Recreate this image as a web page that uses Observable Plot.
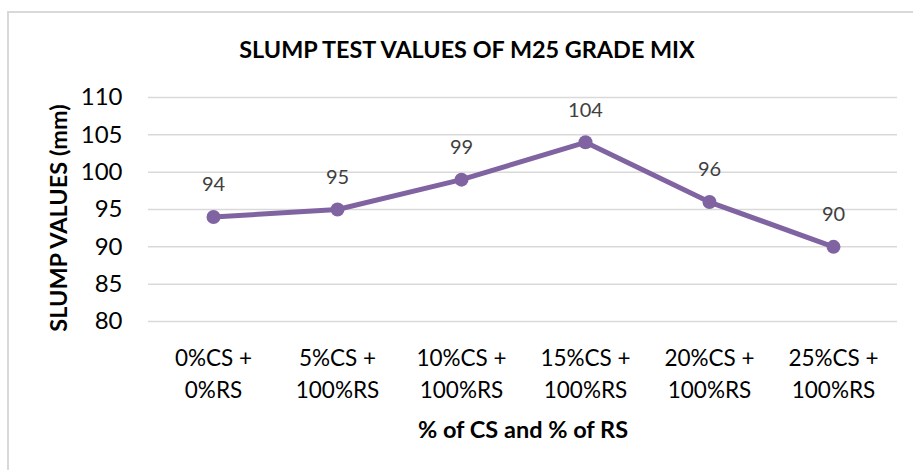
<!DOCTYPE html>
<html>
<head>
<meta charset="utf-8">
<script src="https://cdn.jsdelivr.net/npm/d3@7"></script>
<script src="https://cdn.jsdelivr.net/npm/@observablehq/plot@0.6"></script>
<style>
  html, body { margin: 0; padding: 0; background: #fff; overflow: hidden; }
  #wrap { position: relative; width: 913px; height: 470px; font-family: Lato, "Open Sans", sans-serif; }
  #frame { position: absolute; left: 7px; top: 11px; width: 940px; height: 500px;
           border-left: 2px solid #d9d9d9; border-top: 2px solid #d9d9d9; box-sizing: border-box; }
  #chart { position: absolute; left: 0; top: 0; }
  .ttl { position: absolute; font-weight: bold; color: #000; white-space: nowrap; line-height: 1; }
  #title { left: 467px; top: 38px; font-size: 23.4px; transform: translateX(-50%); }
  #xtitle { left: 523px; top: 418px; font-size: 23.5px; transform: translateX(-50%); }
  #ytitle { left: 59px; top: 218px; font-size: 23.5px; transform: translate(-50%, -50%) rotate(-90deg); }
</style>
</head>
<body>
<div id="wrap">
  <div id="frame"></div>
  <div id="chart"></div>
  <div class="ttl" id="title">SLUMP TEST VALUES OF M25 GRADE MIX</div>
  <div class="ttl" id="ytitle">SLUMP VALUES (mm)</div>
  <div class="ttl" id="xtitle">% of CS and % of RS</div>
</div>
<script>
const categories = ["0%CS +\n0%RS", "5%CS +\n100%RS", "10%CS +\n100%RS", "15%CS +\n100%RS", "20%CS +\n100%RS", "25%CS +\n100%RS"];
const slump = [94, 95, 99, 104, 96, 90];
const yTicks = [80, 85, 90, 95, 100, 105, 110];

const data = categories.map((c, i) => ({cat: c, value: slump[i]}));
const purple = "#8064A2";

const chart = Plot.plot({
  width: 913,
  height: 470,
  marginTop: 97,
  marginBottom: 149,
  marginLeft: 148,
  marginRight: 16,
  style: { fontFamily: "Lato, 'Open Sans', sans-serif", background: "transparent", overflow: "visible" },
  x: { type: "point", domain: categories, padding: 0.5 },
  y: { domain: [80, 110] },
  marks: [
    Plot.gridY(yTicks, { stroke: "#d9d9d9", strokeOpacity: 1, strokeWidth: 1.5 }),
    Plot.axisY(yTicks, { tickSize: 0, tickPadding: 26, fontSize: 24, fill: "#000", label: null }),
    Plot.axisX({ tickSize: 0, tickPadding: 21, fontSize: 22.5, fill: "#000", lineHeight: 1.45, label: null }),
    Plot.line(data, { x: "cat", y: "value", stroke: purple, strokeWidth: 5, curve: "linear" }),
    Plot.dot(data, { x: "cat", y: "value", r: 7, fill: purple, stroke: "none" }),
    Plot.text(data, { x: "cat", y: "value", text: d => String(d.value), dy: -32, fontSize: 20, fill: "#404040" })
  ]
});
document.getElementById("chart").appendChild(chart);
</script>
</body>
</html>
